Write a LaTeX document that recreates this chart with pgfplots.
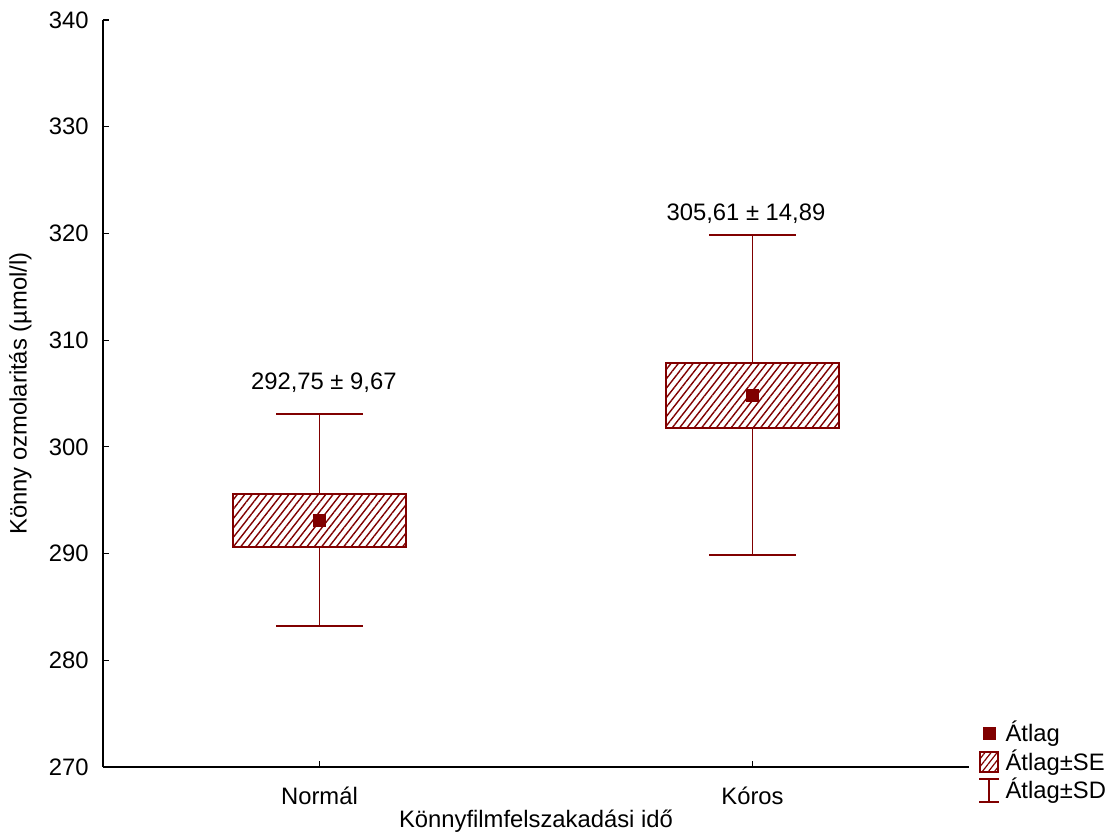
\documentclass[border=0pt]{standalone}
\usepackage{fontspec}
\setmainfont{Liberation Sans}
\usepackage{pgfplots}
\pgfplotsset{compat=1.18}
\usetikzlibrary{patterns.meta}
\definecolor{dred}{HTML}{800000}
\newcommand{\cf}{\fontsize{11.9}{13}\selectfont}
\begin{document}
\cf
\begin{tikzpicture}
\useasboundingbox (-51.5pt,-34.5pt) rectangle (503.5pt,383.5pt);
\begin{axis}[
  scale only axis, width=433pt, height=373.5pt,
  at={(0,0)}, anchor=south west,
  xmin=0.5, xmax=2.5, ymin=270, ymax=340,
  axis x line*=bottom, axis y line*=left,
  xtick={1,2}, xticklabels={Normál, Kóros},
  ytick={270,280,...,340},
  tick align=inside, major tick length=3pt,
  tick style={black, line width=0.6pt},
  axis line style={black, line width=0.7pt},
  /pgf/number format/assume math mode=true,
  tick label style={font=\cf},
  yticklabel style={xshift=-3pt},
  xticklabel style={yshift=-6pt},
  label style={font=\cf, inner sep=0pt},
  xlabel={Könnyfilmfelszakadási idő},
  ylabel={Könny ozmolaritás (µmol/l)},
  xlabel style={at={(axis description cs:0.5,-0.057)}, anchor=north},
  ylabel style={at={(axis description cs:-0.082,0.5)}, anchor=south},
  clip=false,
  legend style={at={(rel axis cs:1.0104,0.062)}, anchor=north west, draw=none, fill=none,
    font=\cf, inner sep=0pt, row sep=2.1pt, column sep=3pt,
    nodes={inner sep=0pt, anchor=west}},
  legend cell align=left,
]
% whiskers (mean +- SD)
\addplot[dred, line width=0.75pt, forget plot] coordinates {(1,283.20) (1,303.08)};
\addplot[dred, line width=0.75pt, forget plot] coordinates {(0.9,303.08) (1.1,303.08)};
\addplot[dred, line width=0.75pt, forget plot] coordinates {(0.9,283.20) (1.1,283.20)};
\addplot[dred, line width=0.75pt, forget plot] coordinates {(2,289.86) (2,319.85)};
\addplot[dred, line width=0.75pt, forget plot] coordinates {(1.9,319.85) (2.1,319.85)};
\addplot[dred, line width=0.75pt, forget plot] coordinates {(1.9,289.86) (2.1,289.86)};
% boxes (mean +- SE)
\addplot[draw=dred, line width=1.1pt, fill=white, forget plot,
  postaction={pattern={Lines[angle=52,distance=2.9pt,line width=0.7pt]}, pattern color=dred}]
  coordinates {(0.8,290.61) (1.2,290.61) (1.2,295.58) (0.8,295.58)} -- cycle;
\addplot[draw=dred, line width=1.1pt, fill=white, forget plot,
  postaction={pattern={Lines[angle=52,distance=2.9pt,line width=0.7pt]}, pattern color=dred}]
  coordinates {(1.8,301.77) (2.2,301.77) (2.2,307.86) (1.8,307.86)} -- cycle;
% means
\addplot[only marks, mark=square*, mark size=3pt, dred, forget plot] coordinates {(1,293.14) (2,304.86)};
\node[font=\cf] at (axis cs:1.01,305.98) {292,75 ± 9,67};
\node[font=\cf] at (axis cs:1.985,321.82) {305,61 ± 14,89};
% legend
\addlegendimage{legend image code/.code={\fill[dred] (2pt,-3pt) rectangle (8pt,3pt);}}
\addlegendentry{Átlag}
\addlegendimage{legend image code/.code={\draw[dred, line width=0.9pt, fill=white,
  postaction={pattern={Lines[angle=52,distance=2.4pt,line width=0.6pt]}, pattern color=dred}]
  (0.5pt,-5pt) rectangle (9.5pt,5pt);}}
\addlegendentry{Átlag±SE}
\addlegendimage{legend image code/.code={\draw[dred, line width=0.6pt]
  (0pt,-6pt) -- (10pt,-6pt) (5pt,-6pt) -- (5pt,5.5pt) (0pt,5.5pt) -- (10pt,5.5pt);}}
\addlegendentry{Átlag±SD}
\end{axis}
\end{tikzpicture}
\end{document}
